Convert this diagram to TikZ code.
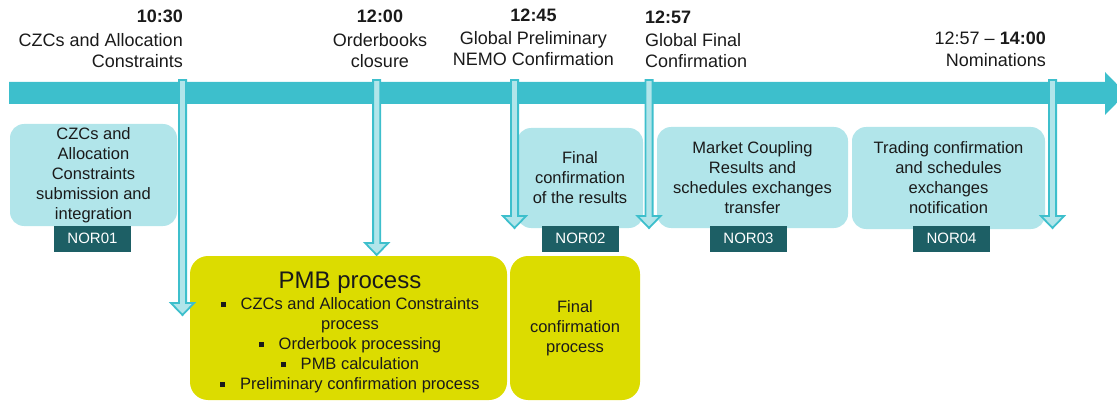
\documentclass[tikz,border=0pt]{standalone}
\usepackage{fontspec}
\setmainfont{Liberation Sans}
\usetikzlibrary{calc}
\definecolor{barc}{HTML}{3DBFCC}
\definecolor{lightc}{HTML}{B1E5EA}
\definecolor{tagc}{HTML}{1D5F65}
\definecolor{yelc}{HTML}{DCDC00}
\definecolor{txt}{HTML}{1A1A1A}
\newcommand{\bul}{\rule[0.2em]{0.3em}{0.3em}\hspace{0.9em}}
\begin{document}
\begin{tikzpicture}[x=1pt,y=-1pt,
  every node/.style={text=txt},
  lbl/.style={inner sep=0pt, font=\fontsize{18}{20.5}\selectfont},
  stage/.style={fill=lightc, rounded corners=14pt, inner sep=0pt, align=center,
    font=\fontsize{16.5}{20}\selectfont},
  tag/.style={fill=tagc, text=white, minimum width=77pt, minimum height=26pt,
    inner sep=0pt, font=\fontsize{15}{18}\selectfont},
  proc/.style={fill=yelc, rounded corners=18pt, inner sep=0pt},
  ptext/.style={inner sep=0pt, align=center, font=\fontsize{16.5}{20}\selectfont},
  varrow/.style={draw=barc, fill=lightc, line width=1.8pt, line join=miter}]
\useasboundingbox (0,0) rectangle (1117,401);

% timeline bar
\fill[barc] (9,82) -- (1105,82) -- (1105,72) -- (1126,93.5) -- (1105,115)
  -- (1105,104) -- (9,104) -- cycle;

% top labels
\node[lbl, align=right, anchor=north east] (l1) at (183,9.8)
  {\textbf{10:30}\\[3.5pt]CZCs and Allocation\\Constraints};
\node[lbl, align=center, anchor=north] (l2) at (380,9.8)
  {\textbf{12:00}\\[3.5pt]Orderbooks\\closure};
\node[lbl, align=center, anchor=north] (l3) at (533.5,8.8)
  {\textbf{12:45}\\[2.8pt]Global Preliminary\\NEMO Confirmation};
\node[lbl, align=left, anchor=north west] (l4) at (645,11.1)
  {\textbf{12:57}\\[2.2pt]Global Final\\Confirmation};
\node[lbl, align=right, anchor=north east] (l5) at (1046,32.1)
  {12:57 -- \textbf{14:00}\\[1.2pt]Nominations};

% stage boxes
\node[stage, minimum width=167pt, minimum height=102pt] (s1) at (93.5,175)
  {CZCs and\\Allocation\\Constraints\\submission and\\integration};
\node[stage, minimum width=126pt, minimum height=100pt] (s2) at (580,178)
  {Final\\confirmation\\of the results};
\node[stage, minimum width=191pt, minimum height=101pt] (s3) at (752.5,177.5)
  {Market Coupling\\Results and\\schedules exchanges\\transfer};
\node[stage, minimum width=193pt, minimum height=102pt] (s4) at (948.5,178)
  {Trading confirmation\\and schedules\\exchanges\\notification};

% tags
\node[tag] (t1) at (92.5,238.5) {NOR01};
\node[tag] (t2) at (580.5,238.5) {NOR02};
\node[tag] (t3) at (748.5,238.5) {NOR03};
\node[tag] (t4) at (951.5,238.5) {NOR04};

% process boxes
\node[proc, minimum width=317pt, minimum height=144pt] (pmb) at (348.5,328) {};
\node[ptext] (pmbtext) at (350,332.5)
  {{\fontsize{24}{24}\selectfont PMB process}\\[1.7pt]
   \bul CZCs and Allocation Constraints\\
   process\\
   \bul Orderbook processing\\
   \bul PMB calculation\\
   \bul Preliminary confirmation process};
\node[proc, minimum width=130pt, minimum height=144pt, align=center,
  font=\fontsize{16.5}{20}\selectfont] (fcp) at (575,328)
  {Final\\confirmation\\process};

% milestone arrows
\foreach \i/\x/\t in {1/182.5/315, 2/376.7/255, 3/514.5/228, 4/649/228, 5/1052.5/228}{
  \coordinate (a\i) at (\x,80);
  \coordinate (b\i) at (\x,\t);
  \draw[varrow] ($(a\i)+(-3.6,0)$) -- ($(b\i)+(-3.6,-12)$) -- ($(b\i)+(-11.6,-12)$)
    -- (b\i) -- ($(b\i)+(11.6,-12)$) -- ($(b\i)+(3.6,-12)$) -- ($(a\i)+(3.6,0)$) -- cycle;
}
\end{tikzpicture}
\end{document}
